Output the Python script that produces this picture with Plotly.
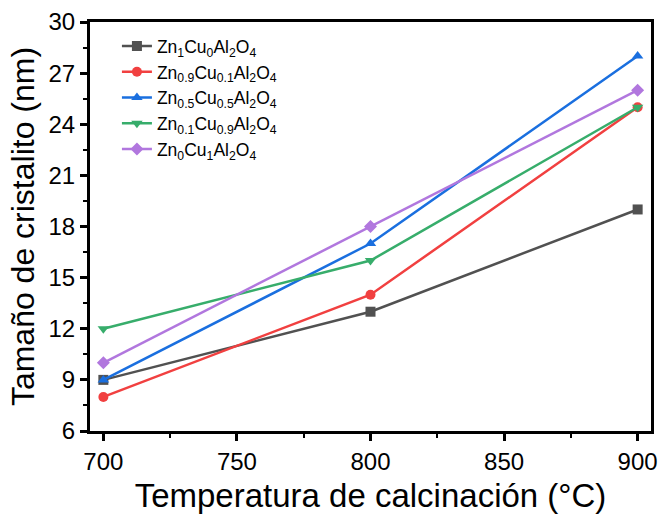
import plotly.graph_objects as go

temps = [700, 800, 900]
names = [
    "Zn<sub>1</sub>Cu<sub>0</sub>Al<sub>2</sub>O<sub>4</sub>",
    "Zn<sub>0.9</sub>Cu<sub>0.1</sub>Al<sub>2</sub>O<sub>4</sub>",
    "Zn<sub>0.5</sub>Cu<sub>0.5</sub>Al<sub>2</sub>O<sub>4</sub>",
    "Zn<sub>0.1</sub>Cu<sub>0.9</sub>Al<sub>2</sub>O<sub>4</sub>",
    "Zn<sub>0</sub>Cu<sub>1</sub>Al<sub>2</sub>O<sub>4</sub>",
]
s1 = [9, 13, 19]
s2 = [8, 14, 25]
s3 = [9, 17, 28]
s4 = [12, 16, 25]
s5 = [10, 18, 26]
series = [s1, s2, s3, s4, s5]
colors = ["#515151", "#F14040", "#1A6FDF", "#37AD6B", "#B177DE"]
symbols = ["square", "circle", "triangle-up", "triangle-down", "diamond"]
x_ticks = [700, 750, 800, 850, 900]
y_ticks = [6, 9, 12, 15, 18, 21, 24, 27, 30]

fig = go.Figure()
for n, s, c, m in zip(names, series, colors, symbols):
    fig.add_trace(go.Scatter(
        x=temps, y=s, name=n, mode="lines+markers",
        line=dict(color=c, width=2.5),
        marker=dict(symbol=m, size=10, color=c),
    ))

axis_common = dict(
    showline=True, linecolor="black", linewidth=3, mirror=True,
    ticks="outside", ticklen=7, tickwidth=3, tickcolor="black",
    showgrid=False, zeroline=False,
    tickfont=dict(family="Liberation Sans, Arial", size=24, color="black"),
    minor=dict(ticks="outside", ticklen=4, tickwidth=2, tickcolor="black"),
)

fig.update_layout(
    width=659, height=514,
    margin=dict(l=90, r=8, t=22, b=83),
    plot_bgcolor="white", paper_bgcolor="white",
    font=dict(family="Liberation Sans, Arial", color="black"),
    xaxis=dict(range=[695, 905], tickvals=x_ticks, automargin=False,
               title=dict(text="Temperatura de calcinación (°C)", font=dict(size=33), standoff=11),
               **axis_common),
    yaxis=dict(range=[6, 30], tickvals=y_ticks, automargin=False,
               title=dict(text="Tamaño de cristalito (nm)", font=dict(size=32), standoff=5),
               **axis_common),
    legend=dict(x=0.048, y=0.985, xanchor="left", yanchor="top",
                bgcolor="rgba(0,0,0,0)", font=dict(size=17.5),
                tracegroupgap=0, itemwidth=30),
)
fig.update_xaxes(minor=dict(dtick=25, tick0=700))
fig.update_yaxes(minor=dict(dtick=1.5, tick0=6))

fig.write_html("out.html")
